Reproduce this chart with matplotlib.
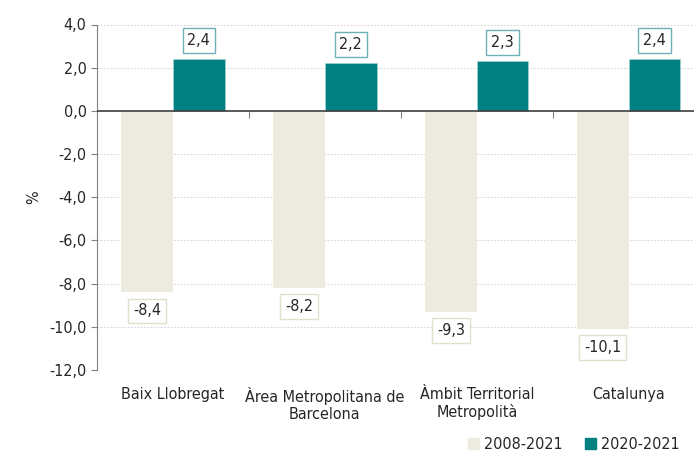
import matplotlib.pyplot as plt
import numpy as np
from matplotlib.ticker import FuncFormatter
from matplotlib.patches import Patch

plt.rcParams['font.family'] = ['Liberation Sans Narrow', 'DejaVu Sans']
plt.rcParams['font.stretch'] = 'condensed'

# dades
categories = ['Baix Llobregat', 'Àrea Metropolitana de\nBarcelona',
              'Àmbit Territorial\nMetropolità', 'Catalunya']
serie_names = ['2008-2021', '2020-2021']
var_2008_2021 = [-8.4, -8.2, -9.3, -10.1]
var_2020_2021 = [2.4, 2.2, 2.3, 2.4]

beige = '#edebe0'
teal = '#008080'
text_color = '#262626'

def coma(v, pos=None):
    return f'{v:.1f}'.replace('.', ',')

fig = plt.figure(figsize=(6.94, 4.55), dpi=100)
ax = fig.add_axes([97/694, 1 - 370/455, 1 - 97/694, (370 - 24.5)/455])

x = np.arange(len(categories))
w = 0.34
b1 = ax.bar(x - w/2, var_2008_2021, w, color=beige, zorder=2)
b2 = ax.bar(x + w/2, var_2020_2021, w, color=teal, edgecolor='#9fcfcf', linewidth=0.6, zorder=2)

ax.bar_label(b1, labels=[coma(v) for v in var_2008_2021], padding=8, fontsize=11.5,
             color=text_color,
             bbox=dict(boxstyle='square,pad=0.3', fc='white', ec='#e2dfcc', lw=1))
ax.bar_label(b2, labels=[coma(v) for v in var_2020_2021], padding=8, fontsize=11.5,
             color=text_color,
             bbox=dict(boxstyle='square,pad=0.3', fc='white', ec='#6fb0b8', lw=1))

ax.set_ylim(-12, 4)
ax.set_yticks(np.arange(-12, 4.1, 2))
ax.yaxis.set_major_formatter(FuncFormatter(coma))
ax.set_xlim(-0.5, 3.43)
ax.set_xticks(x)
ax.set_xticklabels(categories)
ax.tick_params(axis='x', length=0, pad=12, labelsize=11.5, colors=text_color)
ax.tick_params(axis='y', length=4, width=0.8, color='#808080', labelsize=11.5, labelcolor=text_color)

ax.grid(axis='y', linestyle=(0, (2, 2)), color='#cccccc', linewidth=0.6, zorder=0)
for s in ['top', 'right', 'bottom']:
    ax.spines[s].set_visible(False)
ax.spines['left'].set_color('#808080')

# eix a zero amb marques entre categories
ax.axhline(0, color='#404040', linewidth=1.2, zorder=3)
sec = ax.secondary_xaxis(0.75)
sec.set_xticks(x[:-1] + 0.5)
sec.set_xticklabels([])
sec.tick_params(length=5, width=0.8, color='#808080', direction='in')
for s in sec.spines.values():
    s.set_visible(False)

ax.set_ylabel('%', fontsize=11.5, color=text_color, labelpad=6)

handles = [Patch(color=beige), Patch(color=teal)]
fig.legend(handles, serie_names, loc='lower right', bbox_to_anchor=(1.0, -0.025), ncol=2,
           frameon=False, fontsize=11.5, handlelength=0.7, handleheight=0.7,
           handletextpad=0.3, columnspacing=1.4, labelcolor=text_color)

fig.savefig('out.png', dpi=100)
